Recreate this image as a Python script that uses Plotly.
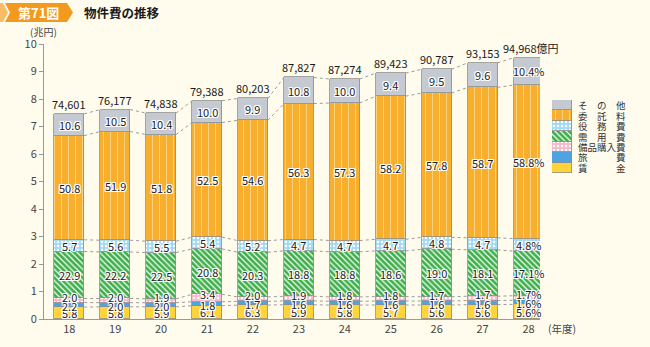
import plotly.graph_objects as go

# Fiscal years (Heisei) and total material expenditure (100 million yen)
years = ["18", "19", "20", "21", "22", "23", "24", "25", "26", "27", "28"]
totals = [74601, 76177, 74838, 79388, 80203, 87827, 87274, 89423, 90787, 93153, 94968]

# Composition ratios (%) of each item, bottom to top
chingin = [5.8, 5.8, 5.9, 6.1, 6.3, 5.9, 5.8, 5.7, 5.6, 5.6, 5.6]
ryohi = [2.2, 2.0, 2.0, 1.8, 1.7, 1.6, 1.6, 1.6, 1.6, 1.6, 1.6]
bihin = [2.0, 2.0, 1.9, 3.4, 2.0, 1.9, 1.8, 1.8, 1.7, 1.7, 1.7]
juyo = [22.9, 22.2, 22.5, 20.8, 20.3, 18.8, 18.8, 18.6, 19.0, 18.1, 17.1]
ekimu = [5.7, 5.6, 5.5, 5.4, 5.2, 4.7, 4.7, 4.7, 4.8, 4.7, 4.8]
itaku = [50.8, 51.9, 51.8, 52.5, 54.6, 56.3, 57.3, 58.2, 57.8, 58.7, 58.8]
sonota = [10.6, 10.5, 10.4, 10.0, 9.9, 10.8, 10.0, 9.4, 9.5, 9.6, 10.4]

y_ticks = list(range(0, 11))

FONT = "Noto Sans CJK JP"
BG = "#FFFCEE"
OUTLINE = "#8C8C8C"

# (name, key label, values, base colour, pattern)
series = [
    ("賃金", "賃　　　金", chingin, "#FFD43B", dict(shape="")),
    ("旅費", "旅　　　費", ryohi, "#4FA3E0", dict(shape="")),
    ("備品購入費", "備品購入費", bihin, "#F7B8C9",
     dict(shape=".", fgcolor="#FFFFFF", bgcolor="#F7B8C9", size=4, solidity=0.3, fillmode="replace")),
    ("需用費", "需　用　費", juyo, "#3DAE49",
     dict(shape="\\", fgcolor="#FFFFFF", bgcolor="#3DAE49", size=4, solidity=0.3, fillmode="replace")),
    ("役務費", "役　務　費", ekimu, "#9FD9F6",
     dict(shape=".", fgcolor="#FFFFFF", bgcolor="#9FD9F6", size=4, solidity=0.3, fillmode="replace")),
    ("委託料", "委　託　料", itaku, "#F8AF2E",
     dict(shape="|", fgcolor="#FCD27E", bgcolor="#F8AF2E", size=7, solidity=0.15, fillmode="replace")),
    ("その他", "そ　の　他", sonota, "#C5CAD2", dict(shape="")),
]

# Figure geometry (pixels) used for paper-coordinate helpers
W, H = 650, 347
ML, MR, MT, MB = 44, 0, 44, 28
PW, PH = W - ML - MR, H - MT - MB


def px(xp):
    return (xp - ML) / PW


def py(yp):
    return (H - MB - yp) / PH


BAR_W = 0.65
xs = list(range(len(years)))
tot_cho = [t / 10000 for t in totals]

fig = go.Figure()

# Stacked bars: segment height = share x total (trillion yen)
for name, _, vals, color, pat in series:
    heights = [v / 100 * t for v, t in zip(vals, tot_cho)]
    fig.add_trace(go.Bar(
        x=xs, y=heights, name=name, width=BAR_W,
        marker=dict(color=color, pattern=pat, line=dict(color=OUTLINE, width=0.8)),
        showlegend=False, hoverinfo="skip",
    ))

# Cumulative boundaries for connector lines and labels
bounds = []
cum = [0.0] * len(years)
for name, _, vals, color, pat in series:
    lo = cum[:]
    cum = [c + v / 100 * t for c, v, t in zip(cum, vals, tot_cho)]
    bounds.append((lo, cum[:]))

shapes = []
for lo, hi in bounds:
    for i in range(len(years) - 1):
        shapes.append(dict(
            type="line", xref="x", yref="y",
            x0=xs[i] + BAR_W / 2, y0=hi[i], x1=xs[i + 1] - BAR_W / 2, y1=hi[i + 1],
            line=dict(color="#9A9A9A", width=1, dash="dot"), layer="below",
        ))

annotations = []
halo = ("1px 1px 0 #fff, -1px -1px 0 #fff, 1px -1px 0 #fff, -1px 1px 0 #fff, "
        "0 1px 0 #fff, 0 -1px 0 #fff, 1px 0 0 #fff, -1px 0 0 #fff")
yshift_by_series = {"備品購入費": 4, "旅費": -1}
for (name, _, vals, color, pat), (lo, hi) in zip(series, bounds):
    for i in range(len(years)):
        txt = f"{vals[i]:.1f}"
        if i == len(years) - 1:
            txt += "%"
        annotations.append(dict(
            x=xs[i], y=(lo[i] + hi[i]) / 2, xref="x", yref="y", text=txt,
            showarrow=False, xanchor="center", yanchor="middle",
            yshift=yshift_by_series.get(name, 0),
            font=dict(family=FONT, size=11, color="#1A1A1A", shadow=halo),
        ))

# Totals above each bar
for i, t in enumerate(totals):
    txt = f"{t:,}"
    xshift = 0
    if i == len(totals) - 1:
        txt += "億円"
        xshift = 2
    annotations.append(dict(
        x=xs[i], y=tot_cho[i], xref="x", yref="y", text=txt, showarrow=False,
        xanchor="center", yanchor="bottom", yshift=0, xshift=xshift,
        font=dict(family=FONT, size=11, color="#1A1A1A"),
    ))


def paper_text(xp, yp, text, size, color, xanchor="center"):
    annotations.append(dict(x=px(xp), y=py(yp), xref="paper", yref="paper", text=text,
                            showarrow=False, xanchor=xanchor, yanchor="middle",
                            font=dict(family=FONT, size=size, color=color)))


# Axis captions
paper_text(43, 32, "(兆円)", 10, "#444")
paper_text(546, 328, "(年度)", 10.5, "#444", xanchor="left")

# Title badge
shapes.append(dict(type="path", xref="paper", yref="paper", layer="above",
                   path=f"M{px(0)},{py(3)} L{px(3)},{py(3)} L{px(8)},{py(12.5)} L{px(3)},{py(22)} L{px(0)},{py(22)} Z",
                   fillcolor="#F8BC66", line=dict(width=0)))
shapes.append(dict(type="path", xref="paper", yref="paper", layer="above",
                   path=f"M{px(5)},{py(3)} L{px(67)},{py(3)} L{px(73)},{py(12.5)} L{px(67)},{py(22)} L{px(5)},{py(22)} L{px(10)},{py(12.5)} Z",
                   fillcolor="#F39A1E", line=dict(width=0)))
paper_text(38, 12.5, "<b>第71図</b>", 13, "#FFFFFF")
paper_text(82, 12.5, "<b>物件費の推移</b>", 12.5, "#1A1A1A", xanchor="left")

# Key: one swatch per item stacked in a small side axis
for name, label, vals, color, pat in series:
    fig.add_trace(go.Bar(
        x=[0], y=[1], xaxis="x2", yaxis="y2", width=1,
        marker=dict(color=color, pattern=pat, line=dict(color=OUTLINE, width=0.8)),
        showlegend=False, hoverinfo="skip",
    ))
row_h = (173 - 100) / len(series)
for k, (name, label, vals, color, pat) in enumerate(series):
    yc = 173 - row_h * (k + 0.5)
    paper_text(576, yc, label, 9.5, "#333", xanchor="left")

fig.update_layout(
    width=W, height=H,
    margin=dict(l=ML, r=MR, t=MT, b=MB),
    paper_bgcolor=BG, plot_bgcolor=BG,
    barmode="stack", bargap=0,
    shapes=shapes, annotations=annotations,
    font=dict(family=FONT, color="#444"),
    xaxis=dict(domain=[0, px(540)], range=[-0.55, 10.25], tickmode="array",
               tickvals=xs, ticktext=years, showgrid=False, zeroline=False,
               showline=True, linecolor="#999", linewidth=1, ticks="",
               tickfont=dict(family=FONT, size=11, color="#444")),
    yaxis=dict(range=[0, 10], tickmode="array", tickvals=y_ticks,
               ticktext=[str(v) for v in y_ticks], showgrid=False, zeroline=False,
               showline=True, linecolor="#999", linewidth=1, ticks="outside",
               ticklen=4, tickcolor="#999",
               tickfont=dict(family=FONT, size=11, color="#444")),
    xaxis2=dict(domain=[px(552), px(572)], range=[-0.5, 0.5], visible=False,
                anchor="y2", fixedrange=True),
    yaxis2=dict(domain=[py(173), py(100)], range=[0, len(series)], visible=False,
                anchor="x2", fixedrange=True),
)

fig.write_html("out.html")
